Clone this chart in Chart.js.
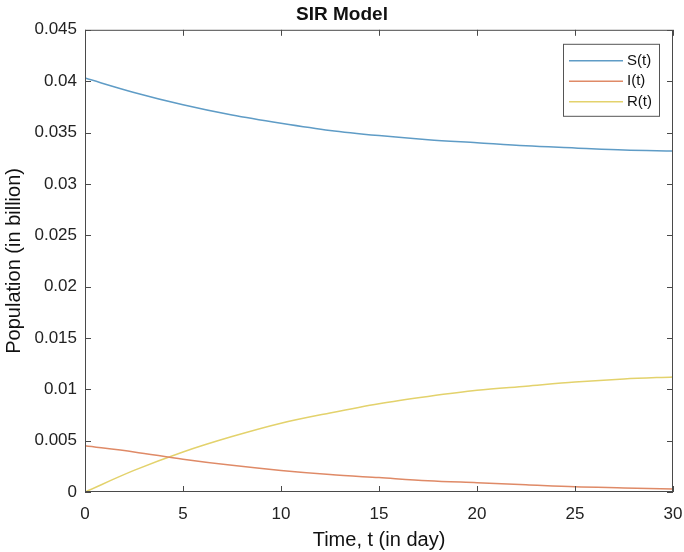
<!doctype html>
<html lang="en">
  <head>
    <meta charset="utf-8">
    <title>SIR Model</title>
    <script src="https://cdn.jsdelivr.net/npm/chart.js"></script>
    <style>
        html, body { margin: 0; padding: 0; background: #fff; }
        #wrap { width: 684px; height: 552px; }
    </style>
  </head>
  <body>
    <div id="wrap"><canvas id="sir"></canvas></div>

    <script>
        // values (time in days, population in billion)
        const days = [0, 2.5, 5, 7.5, 10, 12.5, 15, 17.5, 20, 22.5, 25, 27.5, 30]
        const sValues = [0.0403, 0.0389, 0.0377, 0.0367, 0.0359, 0.0352, 0.0347, 0.0343, 0.0340, 0.0337, 0.0335, 0.0333, 0.0332]
        const iValues = [0.0045, 0.0039, 0.0032, 0.0026, 0.0021, 0.0017, 0.0014, 0.0011, 0.0009, 0.0007, 0.0005, 0.0004, 0.0003]
        const rValues = [0.0000, 0.0021, 0.0039, 0.0054, 0.0067, 0.0077, 0.0086, 0.0093, 0.0099, 0.0103, 0.0107, 0.0110, 0.0112]
        const seriesNames = ['S(t)', 'I(t)', 'R(t)']
        const seriesColors = ['#5f9cc6', '#df8a67', '#e3d26c']

        const FONT = '"Liberation Sans", Arial, Helvetica, sans-serif'
        const AXIS = '#4a4a4a'

        const toPoints = (vals) => vals.map((v, i) => ({ x: days[i], y: v }))

        // matlab style box, inward ticks and boxed legend
        const matlabBox = {
            id: 'matlabBox',
            afterDraw(chart) {
                const ctx = chart.ctx
                const a = chart.chartArea
                const xs = chart.scales.x
                const ys = chart.scales.y
                ctx.save()
                ctx.strokeStyle = AXIS
                ctx.lineWidth = 1
                ctx.strokeRect(a.left + 0.5, a.top + 0.5, a.right - a.left - 1, a.bottom - a.top - 1)
                ctx.beginPath()
                xs.ticks.forEach(t => {
                    const px = Math.round(xs.getPixelForValue(t.value)) + 0.5
                    ctx.moveTo(px, a.bottom); ctx.lineTo(px, a.bottom - 6)
                    ctx.moveTo(px, a.top); ctx.lineTo(px, a.top + 6)
                })
                ys.ticks.forEach(t => {
                    const py = Math.round(ys.getPixelForValue(t.value)) + 0.5
                    ctx.moveTo(a.left, py); ctx.lineTo(a.left + 6, py)
                    ctx.moveTo(a.right, py); ctx.lineTo(a.right - 6, py)
                })
                ctx.stroke()

                // legend
                const bx = a.right - 110, by = a.top + 14, bw = 96, bh = 72
                ctx.fillStyle = '#fff'
                ctx.fillRect(bx, by, bw, bh)
                ctx.strokeStyle = '#555'
                ctx.strokeRect(bx + 0.5, by + 0.5, bw, bh)
                ctx.font = '15px ' + FONT
                ctx.textBaseline = 'middle'
                chart.data.datasets.forEach((ds, i) => {
                    const ry = by + 17 + i * 20.5
                    ctx.strokeStyle = ds.borderColor
                    ctx.lineWidth = 1.5
                    ctx.beginPath()
                    ctx.moveTo(bx + 6, ry); ctx.lineTo(bx + 60, ry)
                    ctx.stroke()
                    ctx.fillStyle = '#111'
                    ctx.fillText(ds.label, bx + 64, ry)
                })
                ctx.restore()
            }
        }

        new Chart(document.getElementById('sir'), {
            type: 'line',
            data: {
                datasets: [
                    { label: seriesNames[0], data: toPoints(sValues), borderColor: seriesColors[0] },
                    { label: seriesNames[1], data: toPoints(iValues), borderColor: seriesColors[1] },
                    { label: seriesNames[2], data: toPoints(rValues), borderColor: seriesColors[2] }
                ]
            },
            options: {
                responsive: true,
                maintainAspectRatio: false,
                animation: false,
                layout: { padding: { left: 0, right: 0, top: 0, bottom: 0 } },
                elements: {
                    point: { radius: 0 },
                    line: { borderWidth: 1.5, cubicInterpolationMode: 'monotone', fill: false }
                },
                plugins: {
                    legend: { display: false },
                    tooltip: { enabled: false },
                    title: {
                        display: true,
                        text: 'SIR Model',
                        color: '#111',
                        font: { family: FONT, size: 19, weight: 'bold' },
                        padding: { top: 3, bottom: 4 }
                    }
                },
                scales: {
                    x: {
                        type: 'linear',
                        min: 0,
                        max: 30,
                        grid: { display: false },
                        border: { display: false },
                        ticks: {
                            stepSize: 5,
                            color: '#222',
                            padding: 4,
                            font: { family: FONT, size: 17 }
                        },
                        title: {
                            display: true,
                            text: 'Time, t (in day)',
                            color: '#111',
                            font: { family: FONT, size: 20 },
                            padding: { top: 0, bottom: 0 }
                        },
                        afterFit(scale) {
                            scale.height = 60
                            scale.paddingRight = 11
                        }
                    },
                    y: {
                        min: 0,
                        max: 0.045,
                        grid: { display: false },
                        border: { display: false },
                        ticks: {
                            stepSize: 0.005,
                            color: '#222',
                            padding: 0,
                            font: { family: FONT, size: 17 },
                            callback: (v) => String(Number(v.toFixed(3)))
                        },
                        title: {
                            display: true,
                            text: 'Population (in billion)',
                            color: '#111',
                            font: { family: FONT, size: 20 },
                            padding: { top: 2, bottom: 0 }
                        },
                        afterFit(scale) { scale.width = 85 }
                    }
                }
            },
            plugins: [matlabBox]
        })
    </script>
  </body>
</html>
